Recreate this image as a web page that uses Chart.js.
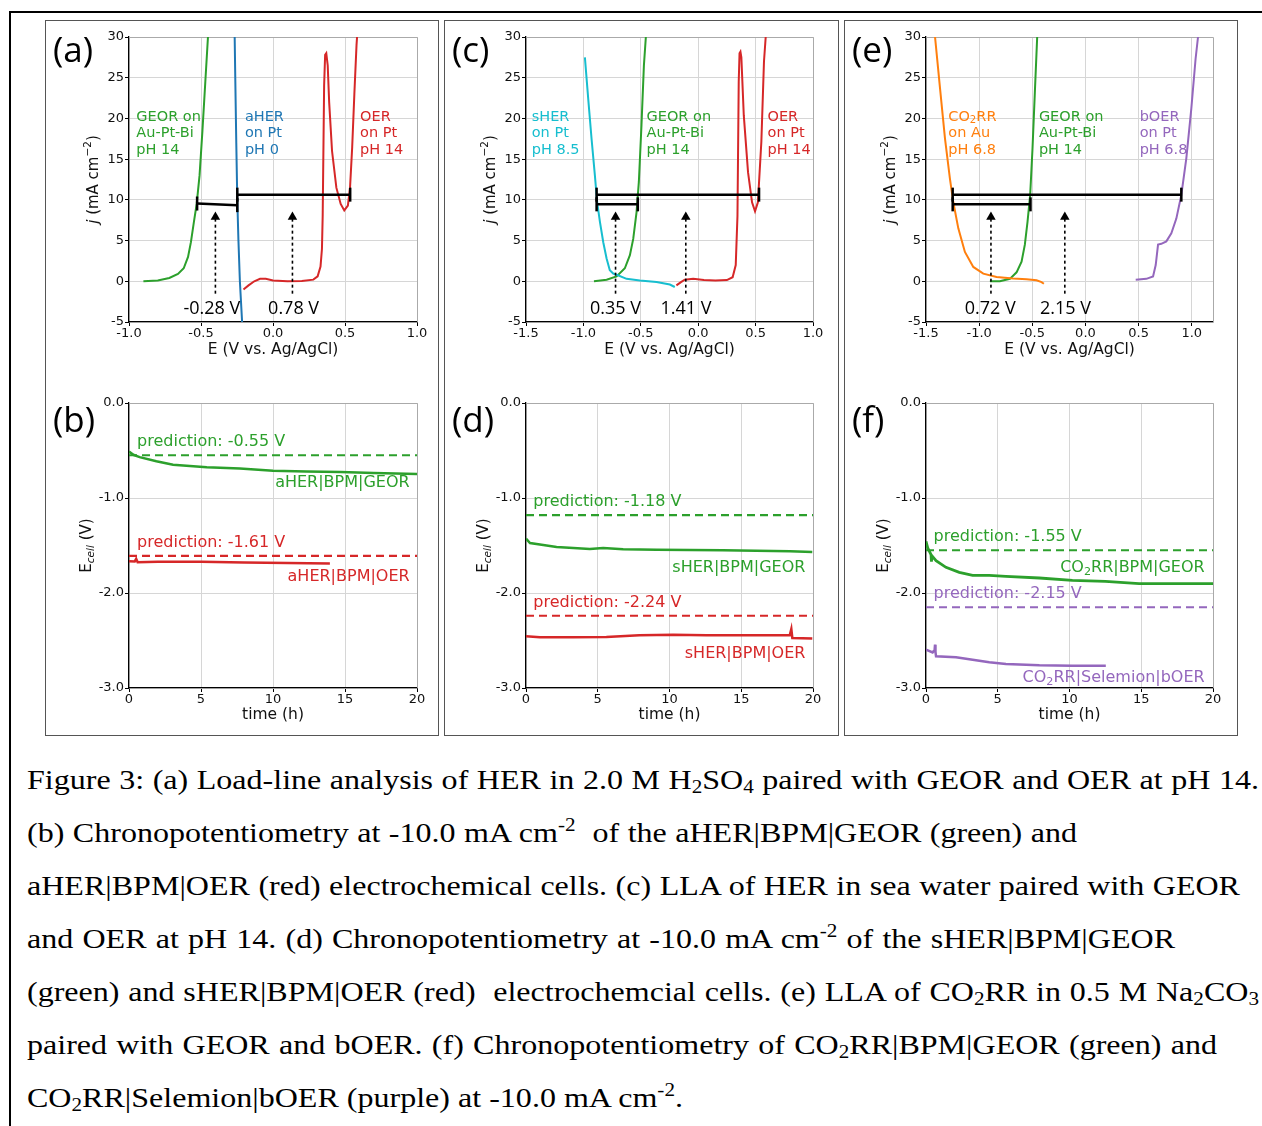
<!DOCTYPE html>
<html>
<head>
<meta charset="utf-8">
<script src="https://cdn.jsdelivr.net/npm/chart.js@4.4.1/dist/chart.umd.min.js"></script>
<style>
  body { margin: 0; background: #fff; width: 1262px; height: 1126px; position: relative; overflow: hidden; }
  #frame { position: absolute; left: 9px; top: 11px; width: 1300px; height: 1200px; border-left: 2px solid #000; border-top: 2px solid #000; }
  .box { position: absolute; top: 20px; height: 714px; border: 1px solid #555; }
  canvas { position: absolute; }
  .cap { position: absolute; left: 27px; font-family: "Liberation Serif", serif; font-size: 27px; line-height: 27px; white-space: nowrap; color: #000; }
  .cap sub { font-size: 0.66em; vertical-align: -0.22em; line-height: 0; }
  .cap sup { font-size: 0.66em; vertical-align: 0.6em; line-height: 0; }
</style>
</head>
<body>
<div id="frame"></div>
<div class="box" style="left:45px;width:392px"></div>
<div class="box" style="left:444px;width:393px"></div>
<div class="box" style="left:844px;width:392px"></div>
<canvas id="cA"></canvas><canvas id="cB"></canvas>
<canvas id="cC"></canvas><canvas id="cD"></canvas>
<canvas id="cE"></canvas><canvas id="cF"></canvas>

<div class="cap" data-w="1232" style="top:767px">Figure 3: (a) Load-line analysis of HER in 2.0 M H<sub>2</sub>SO<sub>4</sub> paired with GEOR and OER at pH 14.</div>
<div class="cap" data-w="1050" style="top:820px">(b) Chronopotentiometry at -10.0 mA cm<sup>-2</sup>&nbsp; of the aHER|BPM|GEOR (green) and</div>
<div class="cap" data-w="1213" style="top:873px">aHER|BPM|OER (red) electrochemical cells. (c) LLA of HER in sea water paired with GEOR</div>
<div class="cap" data-w="1148" style="top:926px">and OER at pH 14. (d) Chronopotentiometry at -10.0 mA cm<sup>-2</sup> of the sHER|BPM|GEOR</div>
<div class="cap" data-w="1232" style="top:979px">(green) and sHER|BPM|OER (red)&nbsp; electrochemcial cells. (e) LLA of CO<sub>2</sub>RR in 0.5 M Na<sub>2</sub>CO<sub>3</sub></div>
<div class="cap" data-w="1190" style="top:1032px">paired with GEOR and bOER. (f) Chronopotentiometry of CO<sub>2</sub>RR|BPM|GEOR (green) and</div>
<div class="cap" data-w="656" style="top:1085px">CO<sub>2</sub>RR|Selemion|bOER (purple) at -10.0 mA cm<sup>-2</sup>.</div>

<script>
// colours (matplotlib tab10)
const GREEN = '#2ca02c', BLUE = '#1f77b4', RED = '#d62728', CYAN = '#17becf', ORANGE = '#ff7f0e', PURPLE = '#9467bd';
const FONT = 'DejaVu Sans';

// ---- (a) aHER in 2.0 M H2SO4 vs GEOR / OER ----
const aGeorE = [-0.90, -0.80, -0.72, -0.66, -0.62, -0.59, -0.57, -0.55, -0.53, -0.51, -0.49, -0.47, -0.45, -0.44];
const aGeorJ = [0.0, 0.1, 0.4, 0.9, 1.6, 3.0, 4.8, 7.2, 9.5, 13.0, 18.5, 24.5, 30.5, 33.0];
const aHerE = [-0.267, -0.262, -0.255, -0.248, -0.240, -0.230, -0.213];
const aHerJ = [31, 25, 17, 10, 5, 0, -5.5];
const aOerE = [-0.205, -0.17, -0.13, -0.09, -0.05, 0.0, 0.1, 0.2, 0.28, 0.31, 0.33, 0.34, 0.345, 0.35, 0.355, 0.362, 0.37, 0.38, 0.39, 0.41, 0.44, 0.47, 0.495, 0.52, 0.535, 0.55, 0.565, 0.58, 0.595];
const aOerJ = [-1.0, -0.5, 0.0, 0.3, 0.3, 0.1, 0.0, 0.05, 0.2, 0.6, 1.8, 4, 8, 16, 24, 27.8, 28.0, 26.5, 22, 16, 11.5, 9.5, 8.7, 9.3, 11.5, 16.5, 23, 29, 33];
const aLoadLowE = [-0.527, -0.248], aLoadLowJ = [9.55, 9.35];
const aLoadHighE = [-0.248, 0.536], aLoadHighJ = [10.64, 10.64];
const aArrowE = [-0.40, 0.135];
const aGapLabels = ['-0.28 V', '0.78 V'];

// ---- (c) sHER in sea water vs GEOR / OER ----
const cHerE = [-0.987, -0.958, -0.929, -0.900, -0.880, -0.856, -0.827, -0.798, -0.770, -0.740, -0.710, -0.624, -0.508, -0.363, -0.247, -0.204];
const cHerJ = [27.5, 22.4, 17.5, 13.0, 9.7, 7.3, 4.8, 2.8, 1.35, 0.95, 0.8, 0.3, 0.1, -0.1, -0.4, -0.7];
const cGeorE = [-0.908, -0.798, -0.711, -0.639, -0.595, -0.566, -0.537, -0.517, -0.494, -0.473, -0.456, -0.447];
const cGeorJ = [0, 0.2, 0.6, 1.6, 3.2, 5.2, 8.5, 12.2, 19.2, 26.5, 30, 33];
const cOerE = [-0.19, -0.15, -0.117, -0.044, 0.05, 0.15, 0.25, 0.30, 0.327, 0.342, 0.353, 0.36, 0.368, 0.376, 0.397, 0.434, 0.469, 0.495, 0.52, 0.55, 0.573, 0.588, 0.60];
const cOerJ = [-0.5, -0.1, 0.2, 0.3, 0.15, 0.1, 0.15, 0.5, 2.0, 8.0, 24.5, 28.0, 28.2, 27.5, 20.4, 13.4, 9.7, 8.6, 9.7, 17.1, 27.0, 30, 33];
const cLoadLowE = [-0.885, -0.526], cLoadLowJ = [9.45, 9.45];
const cLoadHighE = [-0.885, 0.53], cLoadHighJ = [10.64, 10.64];
const cArrowE = [-0.72, -0.108];
const cGapLabels = ['0.35 V', '1.41 V'];

// ---- (e) CO2RR in 0.5 M Na2CO3 vs GEOR / bOER ----
const eCo2E = [-1.43, -1.415, -1.368, -1.321, -1.275, -1.243, -1.196, -1.134, -1.055, -0.961, -0.836, -0.68, -0.554, -0.46, -0.413, -0.391];
const eCo2J = [31.5, 30, 23.7, 17.5, 12.6, 9.7, 6.5, 3.6, 1.76, 0.94, 0.53, 0.33, 0.24, 0.12, -0.1, -0.3];
const eGeorE = [-0.899, -0.805, -0.711, -0.648, -0.601, -0.570, -0.545, -0.52, -0.498, -0.476, -0.454, -0.445];
const eGeorJ = [0, 0.0, 0.3, 1.1, 2.4, 4.5, 7.3, 10.6, 16.3, 23.2, 30, 33];
const eBoerE = [0.473, 0.573, 0.636, 0.661, 0.683, 0.714, 0.761, 0.808, 0.855, 0.902, 0.949, 0.996, 1.036, 1.059, 1.07];
const eBoerJ = [0.2, 0.3, 0.6, 2.0, 4.5, 4.6, 4.9, 5.9, 7.7, 10.6, 15.1, 21.2, 27.3, 30, 32];
const eLoadLowE = [-1.249, -0.517], eLoadLowJ = [9.45, 9.45];
const eLoadHighE = [-1.249, 0.902], eLoadHighJ = [10.64, 10.64];
const eArrowE = [-0.889, -0.194];
const eGapLabels = ['0.72 V', '2.15 V'];

const arrowFromJ = -1.52, arrowToJ = 7.9;

// ---- chronopotentiometry ----
const predT = [0, 20];
const bGeorT = [0, 0.3, 0.74, 1.9, 3.06, 5.4, 7.7, 10, 12.3, 14.7, 17, 20];
const bGeorV = [-0.51, -0.545, -0.57, -0.614, -0.65, -0.677, -0.69, -0.712, -0.72, -0.726, -0.737, -0.747];
const bOerT = [0, 0.4, 0.5, 0.6, 2, 5, 8, 11, 13.95];
const bOerV = [-1.665, -1.668, -1.64, -1.675, -1.67, -1.672, -1.68, -1.685, -1.69];
const bPred = [-0.55, -1.61];

const dGeorT = [0, 0.28, 0.97, 2.13, 3.3, 4.45, 5.38, 6.77, 9.1, 11.4, 13.7, 16.05, 18.4, 19.95];
const dGeorV = [-1.428, -1.474, -1.49, -1.516, -1.526, -1.537, -1.526, -1.54, -1.544, -1.547, -1.551, -1.554, -1.561, -1.568];
const dOerT = [0, 0.97, 3.3, 5.6, 7.9, 10.26, 12.58, 14.9, 17.2, 18.38, 18.49, 18.56, 19.95];
const dOerV = [-2.456, -2.467, -2.467, -2.463, -2.446, -2.439, -2.446, -2.446, -2.446, -2.446, -2.379, -2.474, -2.48];
const dPred = [-1.18, -2.24];

const fGeorT = [0, 0.12, 0.35, 0.38, 0.42, 0.7, 1.39, 2.32, 3.25, 4.41, 5.57, 7.9, 10.2, 12.5, 14.85, 17.2, 20];
const fGeorV = [-1.456, -1.526, -1.596, -1.67, -1.61, -1.66, -1.73, -1.782, -1.814, -1.814, -1.825, -1.842, -1.867, -1.877, -1.902, -1.902, -1.902];
const fBoerT = [0, 0.46, 0.6, 0.63, 0.66, 0.7, 2.09, 3.25, 4.41, 5.57, 7.9, 10.2, 12.53];
const fBoerV = [-2.596, -2.625, -2.6, -2.544, -2.62, -2.667, -2.677, -2.702, -2.73, -2.747, -2.761, -2.765, -2.765];
const fPred = [-1.55, -2.15];

// axis ticks
const jTicks = [-5, 0, 5, 10, 15, 20, 25, 30];
const eTicksA = [-1.0, -0.5, 0.0, 0.5, 1.0];
const eTicksCE = [-1.5, -1.0, -0.5, 0.0, 0.5, 1.0];
const tTicks = [0, 5, 10, 15, 20];
const vTicks = [-3, -2, -1, 0];

Chart.defaults.font.family = FONT;

// text with _{sub} ^{sup} ~{italic} !{italic sub}
function rich(ctx, str, x, y, size, fam, color, align) {
  const parts = [];
  str.replace(/([_^~!])\{([^}]*)\}|([^_^~!{}]+)/g, (m, k, inner, plain) => {
    parts.push(plain !== undefined ? {t: plain} : {t: inner, k});
    return m;
  });
  let w = 0;
  parts.forEach(p => {
    const small = p.k === '_' || p.k === '^' || p.k === '!';
    const it = p.k === '~' || p.k === '!';
    p.font = `${it ? 'italic ' : ''}${small ? size * 0.7 : size}px "${fam}"`;
    p.dy = (p.k === '_' || p.k === '!') ? size * 0.28 : p.k === '^' ? -size * 0.36 : 0;
    ctx.font = p.font;
    p.w = ctx.measureText(p.t).width;
    w += p.w;
  });
  let cx = align === 'right' ? x - w : align === 'center' ? x - w / 2 : x;
  ctx.fillStyle = color;
  ctx.textAlign = 'left';
  ctx.textBaseline = 'middle';
  parts.forEach(p => {
    ctx.font = p.font;
    ctx.fillText(p.t, cx, y + p.dy);
    cx += p.w;
  });
}

const decor = {
  id: 'decor',
  beforeDatasetsDraw(chart) {
    const {ctx, chartArea: a} = chart;
    ctx.save();
    ctx.strokeStyle = '#aaa';
    ctx.lineWidth = 1;
    ctx.beginPath();
    ctx.moveTo(a.left, a.top + 0.5);
    ctx.lineTo(a.right + 0.5, a.top + 0.5);
    ctx.lineTo(a.right + 0.5, a.bottom);
    ctx.stroke();
    ctx.restore();
  },
  afterDraw(chart, args, o) {
    const {ctx, chartArea: a, scales} = chart;
    ctx.save();
    rich(ctx, o.letter, 7, o.letterY, 35, 'Open Sans', '#000', 'left');
    rich(ctx, o.xTitle, (a.left + a.right) / 2, a.bottom + o.xTitleDy, 15.5, FONT, '#111', 'center');
    ctx.translate(a.left - o.yTitleDx, (a.top + a.bottom) / 2);
    ctx.rotate(-Math.PI / 2);
    rich(ctx, o.yTitle, 0, 0, 15, FONT, '#111', 'center');
    ctx.restore();
    ctx.save();
    (o.notes || []).forEach(n => {
      const x = scales.x.getPixelForValue(n.x), y = scales.y.getPixelForValue(n.y);
      n.lines.forEach((t, i) => rich(ctx, t, x, y + i * (n.gap || 0), n.size, n.font || FONT, n.color, n.align || 'left'));
    });
    ctx.restore();
  }
};

const pts = (xs, ys) => xs.map((x, i) => ({x, y: ys[i]}));
const curve = (xs, ys, color, w = 2) => ({data: pts(xs, ys), showLine: true, borderColor: color, borderWidth: w, pointRadius: 0, tension: 0});
const dashed = (y, color, w) => ({...curve(predT, [y, y], color, w), borderDash: [8, 5]});
const loadLine = (xs, ys) => ({
  data: pts(xs, ys), showLine: true, borderColor: '#000', borderWidth: 2.5,
  pointStyle: 'line', pointRotation: 90, pointRadius: 7, pointBorderColor: '#000', pointBorderWidth: 2.5
});
const arrow = x => ({
  data: pts([x, x], [arrowFromJ, arrowToJ]), showLine: true, borderColor: '#000', borderWidth: 1.6, borderDash: [3, 3],
  pointStyle: 'triangle', pointRadius: [0, 5.5], pointBackgroundColor: '#000', pointBorderColor: '#000', pointBorderWidth: 0
});

function axis(a, fit, pad) {
  return {
    type: 'linear', min: a.min, max: a.max,
    afterBuildTicks: s => { s.ticks = a.ticks.map(v => ({value: v})); },
    afterFit: fit,
    ticks: {callback: a.fmt, font: {family: FONT, size: 13}, color: '#111', padding: pad, maxRotation: 0, autoSkip: false},
    grid: {color: '#d6d6d6', lineWidth: 1, tickColor: '#000', tickLength: 4},
    border: {color: '#000', width: 1.3}
  };
}

function panel(id, geo, cfg) {
  const [cl, ct, cw, ch] = geo.canvas, [al, at, ar, ab] = geo.area;
  const cv = document.getElementById(id);
  cv.width = cw; cv.height = ch;
  cv.style.left = cl + 'px'; cv.style.top = ct + 'px';
  const yW = al - cl, xH = ct + ch - ab;
  new Chart(cv, {
    type: 'scatter',
    data: {datasets: cfg.datasets},
    options: {
      responsive: false, animation: false, events: [],
      layout: {padding: {left: 0, top: at - ct, right: cl + cw - ar, bottom: 0}},
      plugins: {legend: {display: false}, tooltip: {enabled: false}, decor: cfg.decor},
      scales: {
        x: axis(cfg.x, s => { s.height = xH; }, 0),
        y: axis(cfg.y, s => { s.width = yW; }, 1)
      }
    },
    plugins: [decor]
  });
}

const f1 = v => v.toFixed(1);
const f0 = v => String(v);
const jAxis = {min: -5, max: 30, ticks: jTicks, fmt: f0};
const vAxis = {min: -3, max: 0, ticks: vTicks, fmt: f1};
const tAxis = {min: 0, max: 20, ticks: tTicks, fmt: f0};
const J_TITLE = '~{j} (mA cm^{−2})', E_TITLE = 'E (V vs. Ag/AgCl)';
const V_TITLE = 'E!{cell} (V)', T_TITLE = 'time (h)';

const topDecor = (letter, notes) => ({letter, letterY: 31, xTitle: E_TITLE, xTitleDy: 28, yTitle: J_TITLE, yTitleDx: 35, notes});
const botDecor = (letter, notes) => ({letter, letterY: 36, xTitle: T_TITLE, xTitleDy: 27, yTitle: V_TITLE, yTitleDx: 42, notes});
const tag = (x, lines, color) => ({x, y: 20.2, lines, color, size: 14.5, gap: 16.5});
const gap = (x, text) => ({x, y: -3.35, lines: [text], color: '#000', size: 18, font: 'Open Sans', align: 'center'});
const lab = (x, y, text, color, align) => ({x, y, lines: [text], color, size: 16, align});

// (a)
panel('cA', {canvas: [46, 21, 392, 344], area: [129, 37, 417, 322]}, {
  x: {min: -1, max: 1, ticks: eTicksA, fmt: f1}, y: jAxis,
  datasets: [
    loadLine(aLoadLowE, aLoadLowJ), loadLine(aLoadHighE, aLoadHighJ),
    arrow(aArrowE[0]), arrow(aArrowE[1]),
    curve(aGeorE, aGeorJ, GREEN), curve(aHerE, aHerJ, BLUE), curve(aOerE, aOerJ, RED)
  ],
  decor: topDecor('(a)', [
    tag(-0.949, ['GEOR on', 'Au-Pt-Bi', 'pH 14'], GREEN),
    tag(-0.195, ['aHER', 'on Pt', 'pH 0'], BLUE),
    tag(0.605, ['OER', 'on Pt', 'pH 14'], RED),
    gap(-0.425, aGapLabels[0]), gap(0.143, aGapLabels[1])
  ])
});

// (c)
panel('cC', {canvas: [445, 21, 393, 344], area: [526, 37, 813, 322]}, {
  x: {min: -1.5, max: 1, ticks: eTicksCE, fmt: f1}, y: jAxis,
  datasets: [
    loadLine(cLoadLowE, cLoadLowJ), loadLine(cLoadHighE, cLoadHighJ),
    arrow(cArrowE[0]), arrow(cArrowE[1]),
    curve(cHerE, cHerJ, CYAN), curve(cGeorE, cGeorJ, GREEN), curve(cOerE, cOerJ, RED)
  ],
  decor: topDecor('(c)', [
    tag(-1.45, ['sHER', 'on Pt', 'pH 8.5'], CYAN),
    tag(-0.45, ['GEOR on', 'Au-Pt-Bi', 'pH 14'], GREEN),
    tag(0.604, ['OER', 'on Pt', 'pH 14'], RED),
    gap(-0.72, cGapLabels[0]), gap(-0.106, cGapLabels[1])
  ])
});

// (e)
panel('cE', {canvas: [845, 21, 392, 344], area: [926, 37, 1213, 322]}, {
  x: {min: -1.5, max: 1.2, ticks: eTicksCE, fmt: f1}, y: jAxis,
  datasets: [
    loadLine(eLoadLowE, eLoadLowJ), loadLine(eLoadHighE, eLoadHighJ),
    arrow(eArrowE[0]), arrow(eArrowE[1]),
    curve(eCo2E, eCo2J, ORANGE), curve(eGeorE, eGeorJ, GREEN), curve(eBoerE, eBoerJ, PURPLE)
  ],
  decor: topDecor('(e)', [
    tag(-1.29, ['CO_{2}RR', 'on Au', 'pH 6.8'], ORANGE),
    tag(-0.438, ['GEOR on', 'Au-Pt-Bi', 'pH 14'], GREEN),
    tag(0.51, ['bOER', 'on Pt', 'pH 6.8'], PURPLE),
    gap(-0.896, eGapLabels[0]), gap(-0.188, eGapLabels[1])
  ])
});

// (b)
panel('cB', {canvas: [46, 386, 392, 348], area: [129, 403, 417, 688]}, {
  x: tAxis, y: vAxis,
  datasets: [
    dashed(bPred[0], GREEN, 2), dashed(bPred[1], RED, 2.2),
    curve(bGeorT, bGeorV, GREEN, 2.5), curve(bOerT, bOerV, RED, 2.5)
  ],
  decor: botDecor('(b)', [
    lab(0.56, -0.41, 'prediction: -0.55 V', GREEN, 'left'),
    lab(19.49, -0.84, 'aHER|BPM|GEOR', GREEN, 'right'),
    lab(0.56, -1.47, 'prediction: -1.61 V', RED, 'left'),
    lab(19.49, -1.835, 'aHER|BPM|OER', RED, 'right')
  ])
});

// (d)
panel('cD', {canvas: [445, 386, 393, 348], area: [526, 403, 813, 688]}, {
  x: tAxis, y: vAxis,
  datasets: [
    dashed(dPred[0], GREEN, 2.2), dashed(dPred[1], RED, 2),
    curve(dGeorT, dGeorV, GREEN, 2.5), curve(dOerT, dOerV, RED, 2.5)
  ],
  decor: botDecor('(d)', [
    lab(0.51, -1.042, 'prediction: -1.18 V', GREEN, 'left'),
    lab(19.47, -1.737, 'sHER|BPM|GEOR', GREEN, 'right'),
    lab(0.51, -2.105, 'prediction: -2.24 V', RED, 'left'),
    lab(19.47, -2.642, 'sHER|BPM|OER', RED, 'right')
  ])
});

// (f)
panel('cF', {canvas: [845, 386, 392, 348], area: [926, 403, 1213, 688]}, {
  x: tAxis, y: vAxis,
  datasets: [
    dashed(fPred[0], GREEN, 2), dashed(fPred[1], PURPLE, 2),
    curve(fGeorT, fGeorV, GREEN, 2.8), curve(fBoerT, fBoerV, PURPLE, 2.5)
  ],
  decor: botDecor('(f)', [
    lab(0.53, -1.414, 'prediction: -1.55 V', GREEN, 'left'),
    lab(19.42, -1.737, 'CO_{2}RR|BPM|GEOR', GREEN, 'right'),
    lab(0.53, -2.01, 'prediction: -2.15 V', PURPLE, 'left'),
    lab(19.42, -2.895, 'CO_{2}RR|Selemion|bOER', PURPLE, 'right')
  ])
});

// caption: the reference text is horizontally stretched; take the stretch from
// the last (unjustified) line, then justify the others with word spacing
const caps = [...document.querySelectorAll('.cap')];
const lastCap = caps[caps.length - 1];
const stretch = +lastCap.dataset.w / lastCap.getBoundingClientRect().width;
caps.forEach(el => {
  const natural = el.getBoundingClientRect().width;
  const spaces = (el.textContent.match(/[ \u00a0]/g) || []).length;
  el.style.transformOrigin = '0 0';
  el.style.transform = `scaleX(${stretch})`;
  el.style.wordSpacing = ((+el.dataset.w / stretch - natural) / spaces) + 'px';
});
</script>
</body>
</html>
